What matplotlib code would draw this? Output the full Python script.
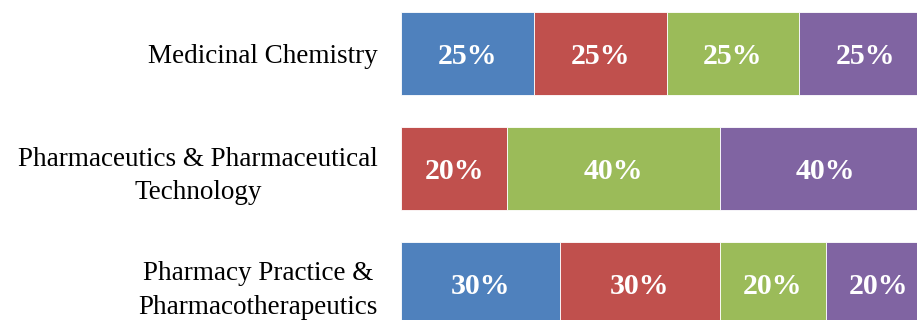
import matplotlib
matplotlib.use("Agg")
import matplotlib.pyplot as plt
import matplotlib.transforms as mtransforms
import numpy as np

categories = ["Medicinal Chemistry",
              "Pharmaceutics & Pharmaceutical\nTechnology",
              "Pharmacy Practice &\nPharmacotherapeutics"]
series_names = ["Series 1", "Series 2", "Series 3", "Series 4"]
series1 = [25, 0, 30]
series2 = [25, 20, 30]
series3 = [25, 40, 20]
series4 = [25, 40, 20]
colors = ["#4F81BD", "#C0504D", "#9BBB59", "#8064A2"]

plt.rcParams['font.family'] = ['Liberation Serif', 'DejaVu Serif']

W, H = 917, 320
fig = plt.figure(figsize=(W / 100, H / 100), dpi=100)
# axes extends beyond the right edge (reference is a crop)
left_px, width_px = 401, 531
ax = fig.add_axes([left_px / W, 0, width_px / W, 1])

label_tr = mtransforms.offset_copy(ax.transData, fig=fig, x=0, y=-3, units='dots')

y = np.arange(len(categories))
left = np.zeros(len(categories))
for vals, c, name in zip([series1, series2, series3, series4], colors, series_names):
    vals = np.array(vals, dtype=float)
    ax.barh(y, vals, left=left, height=0.73, color=c, edgecolor='white',
            linewidth=0.6, label=name)
    for yi, v, l in zip(y, vals, left):
        if v > 0:
            ax.text(l + v / 2, yi, f"{int(v)}%", ha='center', va='center',
                    color='white', fontsize=21.5, fontweight='bold',
                    transform=label_tr)
    left += vals

ax.set_xlim(0, 100)
spacing = 115.0
top = -53.5 / spacing
bottom = (H - 53.5) / spacing
ax.set_ylim(bottom, top)
ax.set_yticks(y)
ax.set_yticklabels(categories, fontsize=19.5, multialignment='center',
                   linespacing=1.45)
ax.tick_params(axis='y', length=0, pad=16.5)
ax.tick_params(axis='x', bottom=False, labelbottom=False)
for s in ax.spines.values():
    s.set_visible(False)

fig.savefig("out.png", dpi=100)
